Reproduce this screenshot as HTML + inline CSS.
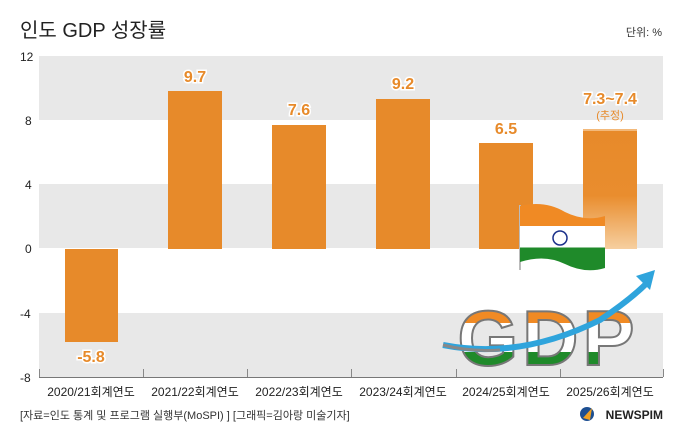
<!DOCTYPE html>
<html><head><meta charset="utf-8"><style>
body{margin:0;background:#fff;}
svg{display:block;font-family:"Liberation Sans","Noto Sans CJK KR",sans-serif;}
</style></head><body>
<svg width="680" height="442" viewBox="0 0 680 442">
<defs>
<linearGradient id="fade" x1="0" y1="0" x2="0" y2="1">
<stop offset="0" stop-color="#e78a2a"/><stop offset="0.55" stop-color="#e98d2e"/><stop offset="1" stop-color="#f6cfa0"/></linearGradient>
<linearGradient id="tri" x1="0" y1="0" x2="0" y2="1">
<stop offset="0.33" stop-color="#f08a24"/><stop offset="0.33" stop-color="#ffffff"/><stop offset="0.66" stop-color="#ffffff"/><stop offset="0.66" stop-color="#1f8a2a"/></linearGradient>
<linearGradient id="flag" x1="0" y1="0" x2="0" y2="1">
<stop offset="0.33" stop-color="#f08a24"/><stop offset="0.33" stop-color="#fff"/><stop offset="0.66" stop-color="#fff"/><stop offset="0.66" stop-color="#1f8a2a"/></linearGradient>
</defs>
<text x="20" y="37" font-size="20" fill="#222">인도 GDP 성장률</text>
<text x="662" y="36" font-size="11" fill="#333" text-anchor="end">단위: %</text>
<rect x="39" y="56" width="624" height="64" fill="#e8e8e8"/>
<rect x="39" y="184" width="624" height="64.5" fill="#e8e8e8"/>
<rect x="39" y="313" width="624" height="64" fill="#e8e8e8"/>
<line x1="39" y1="248.5" x2="663" y2="248.5" stroke="#fff" stroke-width="1"/>
<g font-size="12" fill="#222">
<text x="20" y="61">12</text><text x="25" y="125">8</text><text x="25" y="189">4</text><text x="25" y="253">0</text><text x="20" y="318">-4</text><text x="20" y="382">-8</text>
</g>
<line x1="39" y1="377.5" x2="663" y2="377.5" stroke="#777" stroke-width="1"/>
<g stroke="#888"><line x1="39.5" y1="369" x2="39.5" y2="377"/><line x1="143.5" y1="369" x2="143.5" y2="377"/><line x1="247.5" y1="369" x2="247.5" y2="377"/><line x1="351.5" y1="369" x2="351.5" y2="377"/><line x1="456.5" y1="369" x2="456.5" y2="377"/><line x1="560.5" y1="369" x2="560.5" y2="377"/><line x1="663.5" y1="369" x2="663.5" y2="377"/></g>
<g fill="#e78a2a">
<rect x="65" y="249" width="53" height="93"/>
<rect x="168" y="91" width="54" height="158"/>
<rect x="272" y="125" width="54" height="124"/>
<rect x="376" y="99" width="54" height="150"/>
<rect x="479" y="143" width="54" height="106"/>
</g>
<rect x="583" y="130" width="54" height="119" fill="url(#fade)"/>
<rect x="583" y="129" width="54" height="2" fill="#f3b97a"/>
<g font-size="16" font-weight="bold" fill="#e78a2a" text-anchor="middle" stroke="#fff" stroke-width="3" paint-order="stroke">
<text x="91" y="362">-5.8</text><text x="195" y="82">9.7</text><text x="299" y="115">7.6</text><text x="403" y="89">9.2</text><text x="506" y="134">6.5</text><text x="610" y="104">7.3~7.4</text>
</g>
<text x="610" y="119" font-size="11" fill="#e78a2a" text-anchor="middle">(추정)</text>
<!-- flag -->
<line x1="520" y1="205" x2="520" y2="270" stroke="#bbb" stroke-width="2"/>
<path d="M520 206 Q545 200 565 212 Q585 222 605 216 L605 268 Q585 274 565 264 Q545 254 520 262 Z" fill="url(#flag)"/>
<circle cx="560" cy="238" r="7" fill="none" stroke="#1a2f8a" stroke-width="1.5"/>
<!-- GDP -->
<text x="548" y="365" font-size="78" font-weight="bold" text-anchor="middle" fill="url(#tri)" stroke="#777" stroke-width="2" letter-spacing="4">GDP</text>
<path d="M443 345 Q520 360 600 320 Q630 300 648 282" fill="none" stroke="#2fa4dc" stroke-width="6"/>
<path d="M443 345 Q470 352 500 350" fill="none" stroke="#888" stroke-width="3"/>
<polygon points="655,270 636,276 650,290" fill="#2fa4dc"/>
<g font-size="12" fill="#222" text-anchor="middle">
<text x="91" y="396">2020/21회계연도</text><text x="195" y="396">2021/22회계연도</text><text x="299" y="396">2022/23회계연도</text><text x="403" y="396">2023/24회계연도</text><text x="506" y="396">2024/25회계연도</text><text x="610" y="396">2025/26회계연도</text>
</g>
<text x="20" y="419" font-size="11" fill="#333">[자료=인도 통계 및 프로그램 실행부(MoSPI) ] [그래픽=김아랑 미술기자]</text>
<circle cx="587" cy="414" r="7" fill="#1d4f91"/><path d="M583 418 L592 408 L590 420 Z" fill="#f0a020"/>
<text x="663" y="419" font-size="12" font-weight="bold" fill="#222" text-anchor="end">NEWSPIM</text>
</svg>
</body></html>
